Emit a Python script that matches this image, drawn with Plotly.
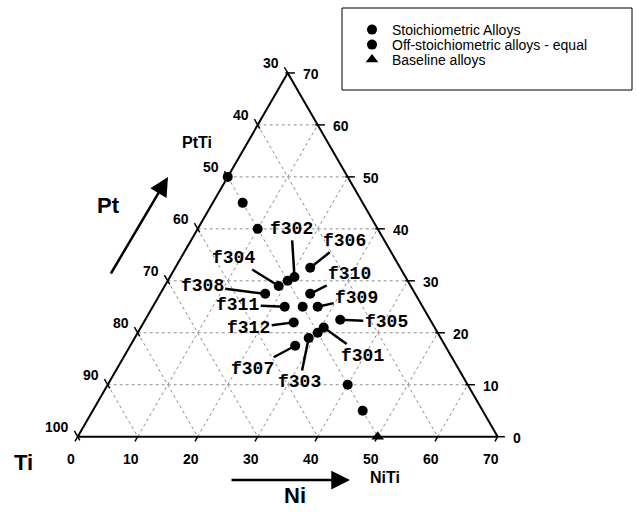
import math
import plotly.graph_objects as go

# ---------------- data ----------------
# visible window of the Ti-Ni-Pt composition triangle (at.%)
ti_limits = [30, 100]
ni_limits = [0, 70]
pt_limits = [0, 70]

grid_ti = [40, 50, 60, 70, 80, 90]
grid_ni = [10, 20, 30, 40, 50, 60]
grid_pt = [10, 20, 30, 40, 50, 60]

tick_ti = [30, 40, 50, 60, 70, 80, 90, 100]
tick_ni = [0, 10, 20, 30, 40, 50, 60, 70]
tick_pt = [0, 10, 20, 30, 40, 50, 60, 70]

# stoichiometric alloys along the Ti = 50 line (PtTi - NiTi)
stoich_ti = [50, 50, 50, 50, 50, 50, 50, 50]
stoich_ni = [0, 5, 10, 20, 25, 30, 40, 45]
stoich_pt = [50, 45, 40, 30, 25, 20, 10, 5]

# baseline alloy (NiTi)
base_ti = [50]
base_ni = [50]
base_pt = [0]

# off-stoichiometric alloys
off_names = ["f301", "f302", "f303", "f304", "f305", "f306",
             "f307", "f308", "f309", "f310", "f311", "f312"]
off_ti = [48.5, 48.5, 52, 52, 45, 45, 55, 55, 47.5, 47.5, 53, 53]
off_ni = [30.5, 20.75, 29, 19, 32.5, 22.5, 27.5, 17.5, 27.5, 25, 22, 25]
off_pt = [21, 30.75, 19, 29, 22.5, 32.5, 17.5, 27.5, 25, 27.5, 25, 22]

# ---------------- styling (label offsets in px) ----------------
label_offsets = {
    "f301": (39, 28), "f302": (-3, -48), "f303": (-9, 44), "f304": (-45, -28),
    "f305": (46, 2), "f306": (34, -27), "f307": (-43, 23), "f308": (-63, -8),
    "f309": (39, -9), "f310": (39, -20), "f311": (-47, -2), "f312": (-45, 6),
}

S3 = math.sqrt(3) / 2


def xy(ti, ni, pt):
    s = ti + ni + pt
    ni = ni * 100.0 / s
    pt = pt * 100.0 / s
    return ni + pt / 2.0, pt * S3


def xy_list(tis, nis, pts):
    xs, ys = [], []
    for a, b, c in zip(tis, nis, pts):
        x, y = xy(a, b, c)
        xs.append(x)
        ys.append(y)
    return xs, ys


fig = go.Figure()

# grid lines
gx, gy = [], []
ti_lo = ti_limits[0]
for p in grid_pt:
    x0, y0 = xy(100 - p, 0, p)
    x1, y1 = xy(ti_lo, 100 - ti_lo - p, p)
    gx += [x0, x1, None]
    gy += [y0, y1, None]
for n in grid_ni:
    x0, y0 = xy(100 - n, n, 0)
    x1, y1 = xy(ti_lo, n, 100 - ti_lo - n)
    gx += [x0, x1, None]
    gy += [y0, y1, None]
for t in grid_ti:
    x0, y0 = xy(t, 0, 100 - t)
    x1, y1 = xy(t, 100 - t, 0)
    gx += [x0, x1, None]
    gy += [y0, y1, None]
fig.add_trace(go.Scatter(x=gx, y=gy, mode="lines", hoverinfo="skip",
                         line=dict(color="#8f8f8f", width=1, dash="dot"),
                         showlegend=False))

# ticks
tx, ty = [], []
for t in tick_ti:
    x, y = xy(t, 0, 100 - t)
    tx += [x + 0.5 * 0.7, x - 0.5 * 1.1, None]
    ty += [y - S3 * 0.7, y + S3 * 1.1, None]
for p in tick_pt:
    x, y = xy(ti_lo, 100 - ti_lo - p, p)
    tx += [x - 0.4, x + 1.2, None]
    ty += [y, y, None]
for n in tick_ni:
    x, y = xy(100 - n, n, 0)
    tx += [x, x - 0.5 * 0.9, None]
    ty += [y, y - S3 * 0.9, None]
fig.add_trace(go.Scatter(x=tx, y=ty, mode="lines", hoverinfo="skip",
                         line=dict(color="black", width=1.5),
                         showlegend=False))

# triangle edges
vx, vy = xy_list([100, ti_lo, ti_lo, 100],
                 [0, 100 - ti_lo, 0, 0],
                 [0, 0, 100 - ti_lo, 0])
fig.add_trace(go.Scatter(x=vx, y=vy, mode="lines", hoverinfo="skip",
                         line=dict(color="black", width=2),
                         showlegend=False))

# data
sx, sy = xy_list(stoich_ti, stoich_ni, stoich_pt)
fig.add_trace(go.Scatter(x=sx, y=sy, mode="markers", name="Stoichiometric Alloys",
                         legend="legend",
                         marker=dict(symbol="circle", size=10, color="black")))
ox, oy = xy_list(off_ti, off_ni, off_pt)
fig.add_trace(go.Scatter(x=ox, y=oy, mode="markers",
                         name="Off-stoichiometric alloys - equal",
                         legend="legend2",
                         marker=dict(symbol="circle", size=10, color="black")))
bx, by = xy_list(base_ti, base_ni, base_pt)
fig.add_trace(go.Scatter(x=bx, y=by, mode="markers", name="Baseline alloys",
                         legend="legend3",
                         marker=dict(symbol="triangle-up", size=11, color="black")))

ann = []
mono = dict(family="Liberation Mono, Courier New, monospace", size=18, color="black")
for name, x, y in zip(off_names, ox, oy):
    dx, dy = label_offsets[name]
    ann.append(dict(x=x, y=y, xref="x", yref="y", text="<b>%s</b>" % name,
                    showarrow=True, arrowhead=0, arrowwidth=2.5, arrowcolor="black",
                    ax=dx, ay=dy, axref="pixel", ayref="pixel", font=mono,
                    standoff=0, startstandoff=0))

tick_font = dict(family="Liberation Sans, Arial, sans-serif", size=14, color="black")
for t in tick_ti:
    x, y = xy(t, 0, 100 - t)
    ann.append(dict(x=x, y=y, xref="x", yref="y", text="<b>%d</b>" % t, showarrow=False,
                    xanchor="right", yanchor="middle", xshift=-7, yshift=10, font=tick_font))
for p in tick_pt:
    x, y = xy(ti_lo, 100 - ti_lo - p, p)
    ann.append(dict(x=x, y=y, xref="x", yref="y", text="<b>%d</b>" % p, showarrow=False,
                    xanchor="left", yanchor="middle", xshift=13, yshift=-1.5, font=tick_font))
for n in tick_ni:
    x, y = xy(100 - n, n, 0)
    ann.append(dict(x=x, y=y, xref="x", yref="y", text="<b>%d</b>" % n, showarrow=False,
                    xanchor="center", yanchor="middle", xshift=-6.5, yshift=-22, font=tick_font))

# compound labels
cfont = dict(family="Liberation Sans, Arial, sans-serif", size=16, color="black")
px_, py_ = xy(50, 0, 50)
ann.append(dict(x=px_, y=py_, xref="x", yref="y", text="<b>PtTi</b>", showarrow=False,
                xanchor="center", yanchor="middle", xshift=-31, yshift=34, font=cfont))
nx_, ny_ = xy(50, 50, 0)
ann.append(dict(x=nx_, y=ny_, xref="x", yref="y", text="<b>NiTi</b>", showarrow=False,
                xanchor="center", yanchor="middle", xshift=7, yshift=-41, font=cfont))

W, H = 636, 512
big = dict(family="Liberation Sans, Arial, sans-serif", size=22, color="black")
for txt, px, py in [("Ti", 23, 462), ("Ni", 295, 495), ("Pt", 108, 205)]:
    ann.append(dict(x=px / W, y=1 - py / H, xref="paper", yref="paper",
                    text="<b>%s</b>" % txt, showarrow=False,
                    xanchor="center", yanchor="middle", font=big))
# direction arrows
ann.append(dict(x=168 / W, y=1 - 177 / H, xref="paper", yref="paper", text="",
                showarrow=True, arrowhead=2, arrowsize=1.5, arrowwidth=2.5,
                arrowcolor="black", ax=-58, ay=98))
ann.append(dict(x=350 / W, y=1 - 480 / H, xref="paper", yref="paper", text="",
                showarrow=True, arrowhead=2, arrowsize=1.5, arrowwidth=2.5,
                arrowcolor="black", ax=-120, ay=0))

x_lo = -77.7 / 6
x_hi = (W - 77.7) / 6
y_lo = (436.7 - H) / 6
y_hi = 436.7 / 6

leg_font = dict(family="Liberation Sans, Arial, sans-serif", size=14, color="black")


def leg(top):
    return dict(x=352 / W, y=1 - top / H, xanchor="left", yanchor="top",
                bgcolor="rgba(0,0,0,0)", borderwidth=0, font=leg_font)


fig.update_layout(
    width=W, height=H,
    margin=dict(l=0, r=0, t=0, b=0),
    paper_bgcolor="white", plot_bgcolor="white",
    xaxis=dict(range=[x_lo, x_hi], visible=False, fixedrange=True),
    yaxis=dict(range=[y_lo, y_hi], visible=False, fixedrange=True),
    annotations=ann,
    showlegend=True,
    legend=leg(14),
    legend2=leg(29),
    legend3=leg(44),
    shapes=[dict(type="rect", xref="paper", yref="paper",
                 x0=342 / W, x1=632 / W, y0=1 - 90 / H, y1=1 - 8 / H,
                 line=dict(color="black", width=1))],
)

fig.write_html("out.html")
